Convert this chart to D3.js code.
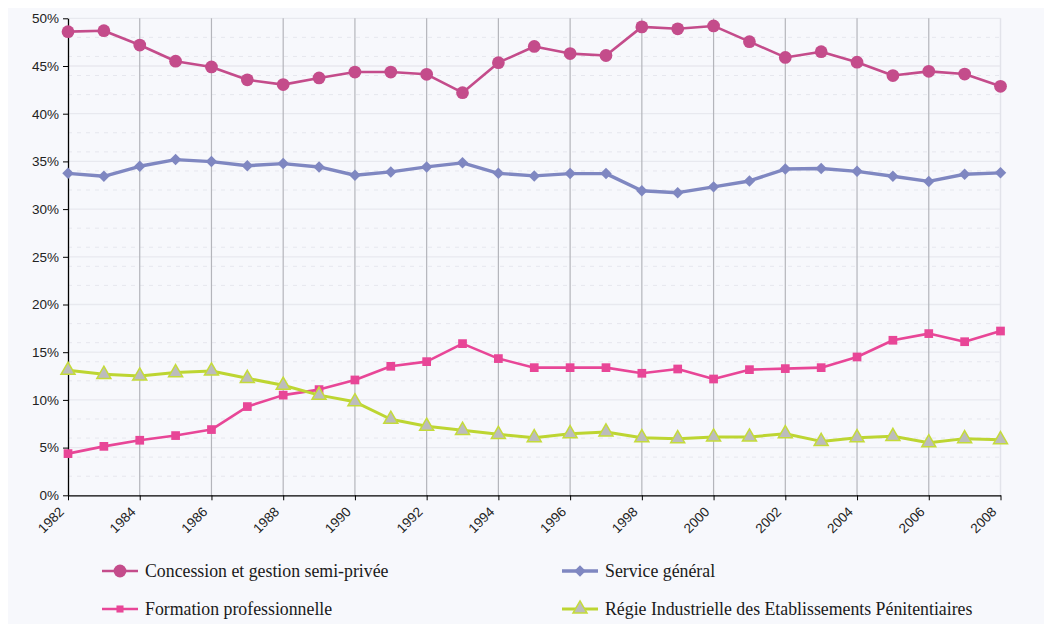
<!DOCTYPE html>
<html>
<head>
<meta charset="utf-8">
<script src="https://cdn.jsdelivr.net/npm/d3@7/dist/d3.min.js"></script>
<style>
  html, body { margin: 0; padding: 0; background: #ffffff; }
  svg { display: block; }
</style>
</head>
<body>
<svg id="chart" width="1044" height="624"></svg>
<script>
const years = d3.range(1982, 2009);
const yTicks = [0, 5, 10, 15, 20, 25, 30, 35, 40, 45, 50];
const xTickYears = d3.range(1982, 2009, 2);

const seriesNames = [
  "Concession et gestion semi-privée",
  "Service général",
  "Formation professionnelle",
  "Régie Industrielle des Etablissements Pénitentiaires"
];

const concession = [48.6, 48.7, 47.2, 45.5, 44.9, 43.55, 43.05, 43.75, 44.37, 44.37, 44.13, 42.2, 45.35, 47.05,
  46.3, 46.1, 49.1, 48.9, 49.2, 47.55, 45.9, 46.5, 45.4, 44.0, 44.44, 44.16, 42.87];
const serviceGeneral = [33.75, 33.44, 34.49, 35.19, 34.98, 34.55, 34.77, 34.42, 33.55, 33.9, 34.42, 34.85, 33.75, 33.48,
  33.72, 33.72, 31.93, 31.72, 32.33, 32.95, 34.2, 34.25, 33.96, 33.44, 32.9, 33.65, 33.8];
const formation = [4.37, 5.13, 5.77, 6.26, 6.89, 9.3, 10.5, 11.08, 12.09, 13.52, 14.01, 15.9, 14.33, 13.38,
  13.38, 13.38, 12.79, 13.24, 12.19, 13.17, 13.28, 13.38, 14.5, 16.25, 16.95, 16.1, 17.22];
const regie = [13.1, 12.68, 12.5, 12.86, 13.03, 12.26, 11.53, 10.5, 9.8, 7.97, 7.23, 6.81, 6.39, 6.04,
  6.46, 6.64, 6.04, 5.94, 6.11, 6.11, 6.46, 5.65, 6.04, 6.18, 5.5, 5.94, 5.83];

const seriesValues = [concession, serviceGeneral, formation, regie];

const styles = [
  { color: "#c44c8b", fill: "#c44c8b", stroke: "#c44c8b", symbol: d3.symbolCircle, size: 128, rot: 0, width: 2.6 },
  { color: "#7f87c1", fill: "#7f87c1", stroke: "#7f87c1", symbol: d3.symbolSquare, size: 66, rot: 45, width: 3.4 },
  { color: "#e84697", fill: "#e84697", stroke: "#e84697", symbol: d3.symbolSquare, size: 76, rot: 0, width: 2.6 },
  { color: "#bdd532", fill: "#bcbcbc", stroke: "#c5db3a", symbol: d3.symbolTriangle, size: 85, rot: 0, width: 3 }
];

const sansFont = "'Liberation Sans', Arial, Helvetica, sans-serif";
const serifFont = "'Liberation Serif', 'Times New Roman', Times, serif";

const svg = d3.select("#chart");

// panel background
svg.append("rect").attr("x", 8).attr("y", 8).attr("width", 1036).attr("height", 616).attr("fill", "#f7f8fc");

const margin = { left: 68, right: 1000.5, top: 18.3, bottom: 495.3 };
const x = d3.scaleLinear().domain([1982, 2008]).range([margin.left, margin.right]);
const y = d3.scaleLinear().domain([0, 50]).range([margin.bottom, margin.top]);

const g = svg.append("g");

// minor dashed gridlines every 2%
const minor = d3.range(2, 50, 2).filter(v => v % 5 !== 0);
g.selectAll("line.minor").data(minor).join("line")
  .attr("x1", x(1982)).attr("x2", x(2008))
  .attr("y1", d => y(d)).attr("y2", d => y(d))
  .attr("stroke", "#e6e7ee").attr("stroke-width", 1).attr("stroke-dasharray", "4,5");

// major solid gridlines
g.selectAll("line.major").data(yTicks.filter(v => v > 0)).join("line")
  .attr("x1", x(1982)).attr("x2", x(2008))
  .attr("y1", d => y(d)).attr("y2", d => y(d))
  .attr("stroke", "#e8e9ef").attr("stroke-width", 1.3);

// vertical gridlines
g.selectAll("line.vgrid").data(xTickYears.filter(d => d > 1982 && d < 2008)).join("line")
  .attr("x1", d => x(d)).attr("x2", d => x(d))
  .attr("y1", y(50)).attr("y2", y(0))
  .attr("stroke", "#b4b5bb").attr("stroke-width", 1.2);
g.append("line")
  .attr("x1", x(2008)).attr("x2", x(2008)).attr("y1", y(50)).attr("y2", y(0))
  .attr("stroke", "#e2e3ea").attr("stroke-width", 1.5);

// axes
const xAxis = d3.axisBottom(x).tickValues(xTickYears).tickFormat(d3.format("d")).tickSize(5).tickSizeOuter(0);
const yAxis = d3.axisLeft(y).tickValues(yTicks).tickFormat(d => d + "%").tickSize(5).tickSizeOuter(0);

const gx = svg.append("g").attr("transform", `translate(0,${y(0)})`).call(xAxis);
gx.select(".domain").attr("stroke", "#000").attr("stroke-width", 1.3);
gx.selectAll(".tick line").attr("stroke", "#000");
gx.selectAll(".tick text")
  .attr("font-family", sansFont).attr("font-size", 13.5).attr("fill", "#222")
  .attr("text-anchor", "end")
  .attr("x", 0).attr("y", 0).attr("dy", "0.35em")
  .attr("transform", "translate(-7,14) rotate(-45)");

const gy = svg.append("g").attr("transform", `translate(${x(1982)},0)`).call(yAxis);
gy.select(".domain").attr("stroke", "#000").attr("stroke-width", 1.3);
gy.selectAll(".tick line").attr("stroke", "#000");
gy.selectAll(".tick text")
  .attr("font-family", sansFont).attr("font-size", 13.5).attr("fill", "#222")
  .attr("x", -9);

// series
const line = d3.line().x((d, i) => x(years[i])).y(d => y(d));
seriesValues.forEach((vals, si) => {
  const st = styles[si];
  const sg = svg.append("g");
  sg.append("path").datum(vals).attr("d", line)
    .attr("fill", "none").attr("stroke", st.color).attr("stroke-width", st.width)
    .attr("stroke-linejoin", "round");
  sg.selectAll("path.m").data(vals).join("path")
    .attr("transform", (d, i) => `translate(${x(years[i])},${y(d)}) rotate(${st.rot})`)
    .attr("d", d3.symbol().type(st.symbol).size(st.size))
    .attr("fill", st.fill).attr("stroke", st.stroke).attr("stroke-width", si === 3 ? 1.5 : 0);
});

// legend
const legendPos = [
  { x: 102, y: 571 }, { x: 562, y: 571 }, { x: 102, y: 609 }, { x: 562, y: 609 }
];
seriesNames.forEach((name, si) => {
  const st = styles[si];
  const p = legendPos[si];
  const lg = svg.append("g").attr("transform", `translate(${p.x},${p.y})`);
  lg.append("line").attr("x1", 0).attr("x2", 36).attr("y1", 0).attr("y2", 0)
    .attr("stroke", st.color).attr("stroke-width", st.width);
  lg.append("path").attr("transform", `translate(18,0) rotate(${st.rot})`)
    .attr("d", d3.symbol().type(st.symbol).size(si === 2 ? 50 : st.size))
    .attr("fill", st.fill).attr("stroke", st.stroke).attr("stroke-width", si === 3 ? 1.5 : 0);
  lg.append("text").attr("x", 43).attr("y", 0).attr("dy", "0.35em")
    .attr("font-family", serifFont).attr("font-size", 17.8).attr("fill", "#1a1a1a")
    .text(name);
});
</script>
</body>
</html>
